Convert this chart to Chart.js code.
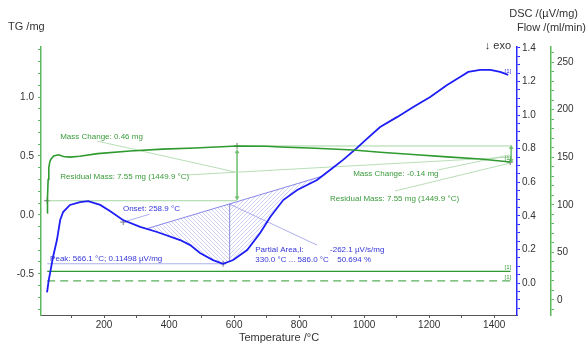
<!DOCTYPE html>
<html><head><meta charset="utf-8">
<script src="https://cdn.jsdelivr.net/npm/chart.js@4/dist/chart.umd.min.js"></script>
<style>html,body{margin:0;padding:0;background:#fff}#wrap{width:587px;height:345px;position:relative}</style>
</head><body><div id="wrap"><canvas id="c" width="587" height="345"></canvas></div>
<script>
// ---------- data ----------
const tgTemp = [24.6, 26, 28, 30, 33, 37, 45, 60, 75, 95, 125, 180, 280, 380, 480, 609, 700, 742, 850, 966, 1049, 1150, 1255, 1357, 1449];
const tgMass = [0.017, 0.15, 0.30, 0.40, 0.45, 0.475, 0.50, 0.51, 0.495, 0.49, 0.498, 0.52, 0.542, 0.558, 0.568, 0.585, 0.582, 0.576, 0.565, 0.551, 0.532, 0.512, 0.492, 0.474, 0.449];

const dscTemp = [24.6, 30, 34, 43, 55, 65, 74, 95, 126, 151, 188, 218, 258, 311, 363, 434, 465, 495, 535, 566, 597, 640, 680, 711, 751, 794, 855, 895, 935, 978, 1009, 1049, 1102, 1151, 1203, 1255, 1295, 1320, 1357, 1388, 1418, 1443];
const dscVal  = [-0.055, 0.02, 0.06, 0.155, 0.256, 0.375, 0.423, 0.465, 0.482, 0.488, 0.465, 0.429, 0.375, 0.334, 0.304, 0.256, 0.226, 0.179, 0.137, 0.115, 0.137, 0.197, 0.298, 0.393, 0.494, 0.554, 0.613, 0.673, 0.733, 0.805, 0.860, 0.929, 0.989, 1.048, 1.108, 1.179, 1.227, 1.257, 1.269, 1.269, 1.257, 1.239];

const flowSpan = [25, 1450];
const flowSolid = [30, 30];
const flowDashed = [20, 20];

// evaluation results (from the picture)
const massStepTemp = [25, 609];
const massStepLevels = [0.12, 0.585];
const massEndTemp = [609, 1449];
const massEndLevels = [0.585, 0.449];
const onsetPoint = [258.9, 0.363];
const peakPoint = [566.1, 0.115];
const areaRange = [330, 870];
const partialEnd = 586;

const tgLabels = ["Mass Change: 0.46 mg", "Residual Mass: 7.55 mg (1449.9 °C)", "Mass Change: -0.14 mg", "Residual Mass: 7.55 mg (1449.9 °C)"];
const tgLabelAt = [[65, 0.66], [65, 0.32], [966, 0.35], [895, 0.135]];
const dscLabels = ["Onset: 258.9 °C", "Peak: 566.1 °C; 0.11498 µV/mg", "Partial Area,I:", "330.0 °C ... 586.0 °C", "-262.1 µV/s/mg", "50.694 %"];
const dscLabelAt = [[258, 0.44], [34, 0.143], [665, 0.197], [665, 0.137], [895, 0.197], [917, 0.137]];

const tgLeaders = [
  [[178, 0.627], [603, 0.364]],
  [[455, 0.339], [1449, 0.49]],
  [[1225, 0.38], [1449, 0.51]],
  [[1095, 0.203], [1449, 0.44]]
];
const dscLeaders = [
  [[258.9, 0.363], [340, 0.41]],
  [[586, 0.47], [855, 0.226]],
  [[25, 0.115], [566.1, 0.115]]
];

// ---------- helpers ----------
function pts(xs, ys){ return xs.map((x,i)=>({x:x, y:ys[i]})); }
function interp(xs, ys, t){
  for (let i=1;i<xs.length;i++){ if (t<=xs[i]) { const f=(t-xs[i-1])/(xs[i]-xs[i-1]); return ys[i-1]+f*(ys[i]-ys[i-1]); } }
  return ys[ys.length-1];
}
const GREEN='#2f9a2f', LGREEN='#a6d6a6', MGREEN='#6fbf6f', BLUE='#1e1ef5', LBLUE='#7a7ae8';
const FONT='"Liberation Sans", Arial, sans-serif';

const b0 = interp(dscTemp, dscVal, areaRange[0]);
const b1 = interp(dscTemp, dscVal, areaRange[1]);
const baseAt = t => b0 + (b1-b0)*(t-areaRange[0])/(areaRange[1]-areaRange[0]);

const datasets = [];
function line(data, axis, color, width, extra){ datasets.push(Object.assign({data:data, yAxisID:axis, borderColor:color, borderWidth:width, pointRadius:0, fill:false, tension:0}, extra||{})); }

line(pts(tgTemp, tgMass), 'yTG', GREEN, 1.6);
line(pts(dscTemp, dscVal), 'yDSC', BLUE, 1.8);
line(pts(flowSpan, flowSolid), 'yFlow', GREEN, 1.3);
line(pts(flowSpan, flowDashed), 'yFlow', '#5aae5a', 1.3, {borderDash:[8,5]});
// TG evaluation lines
line(pts(massStepTemp, [massStepLevels[0], massStepLevels[0]]), 'yTG', LGREEN, 1);
line(pts([massEndTemp[0], 1452], [massStepLevels[1], massStepLevels[1]]), 'yTG', LGREEN, 1);
tgLeaders.forEach(s=>line(s.map(p=>({x:p[0],y:p[1]})), 'yTG', LGREEN, 0.8));
// arrows
const arrowOpts = {pointStyle:'triangle', pointRadius:2.3, pointBackgroundColor:MGREEN, pointBorderColor:MGREEN, pointBorderWidth:0.5, pointRotation:(c)=>c.dataIndex===0?0:180};
line([{x:massStepTemp[1], y:0.535},{x:massStepTemp[1], y:0.145}], 'yTG', MGREEN, 0.8, arrowOpts);
line([{x:1452, y:0.572},{x:1452, y:0.462}], 'yTG', MGREEN, 0.8, arrowOpts);
// cross markers
line([{x:massStepTemp[1], y:massStepLevels[1]},{x:massEndTemp[1], y:massEndLevels[1]},{x:massStepTemp[0], y:massStepLevels[0]}], 'yTG', 'rgba(0,0,0,0)', 0, {pointStyle:'cross', pointRadius:3, pointBorderColor:'#445544', pointBorderWidth:0.8, showLine:false});
// DSC evaluation
line([{x:areaRange[0], y:b0},{x:areaRange[1], y:b1}], 'yDSC', LBLUE, 0.9);
line([{x:partialEnd, y:baseAt(partialEnd)},{x:partialEnd, y:interp(dscTemp,dscVal,partialEnd)}], 'yDSC', '#9a9ad8', 0.8);
dscLeaders.forEach(s=>line(s.map(p=>({x:p[0],y:p[1]})), 'yDSC', '#9a9ae8', 0.8));
line([{x:onsetPoint[0], y:onsetPoint[1]},{x:peakPoint[0], y:peakPoint[1]}], 'yDSC', 'rgba(0,0,0,0)', 0, {pointStyle:'cross', pointRadius:3, pointBorderColor:'#556', pointBorderWidth:0.8, showLine:false});

// ---------- plugins ----------
const hatch = {
  id:'hatch',
  beforeDatasetsDraw(chart){
    const {ctx, chartArea, scales} = chart;
    const px = v=>scales.x.getPixelForValue(v), py = v=>scales.yDSC.getPixelForValue(v);
    function region(ta, tb){
      ctx.beginPath();
      ctx.moveTo(px(ta), py(interp(dscTemp,dscVal,ta)));
      dscTemp.forEach((t,i)=>{ if (t>ta && t<tb) ctx.lineTo(px(t), py(dscVal[i])); });
      ctx.lineTo(px(tb), py(interp(dscTemp,dscVal,tb)));
      ctx.lineTo(px(tb), py(baseAt(tb)));
      ctx.lineTo(px(ta), py(baseAt(ta)));
      ctx.closePath();
    }
    function fillHatch(ta, tb, dir){
      ctx.save();
      region(ta, tb); ctx.clip();
      ctx.strokeStyle = 'rgba(80,80,220,0.38)'; ctx.lineWidth = 0.7;
      ctx.beginPath();
      for (let k=-400; k<800; k+=4){
        const x0 = chartArea.left + k;
        if (dir>0){ ctx.moveTo(x0, chartArea.bottom); ctx.lineTo(x0+300, chartArea.bottom-300); }
        else { ctx.moveTo(x0, chartArea.top); ctx.lineTo(x0+300, chartArea.top+300); }
      }
      ctx.stroke();
      ctx.restore();
    }
    fillHatch(areaRange[0], partialEnd, -1);
    fillHatch(partialEnd, areaRange[1], 1);
  },
  afterDatasetsDraw(chart){
    const {ctx, scales} = chart;
    const px = v=>scales.x.getPixelForValue(v);
    ctx.save();
    ctx.font = '8px '+FONT; ctx.textBaseline='middle'; ctx.textAlign='left';
    ctx.fillStyle = '#3a9a3a';
    tgLabels.forEach((s,i)=>ctx.fillText(s, px(tgLabelAt[i][0]), scales.yTG.getPixelForValue(tgLabelAt[i][1])));
    ctx.fillStyle = '#3535d8';
    dscLabels.forEach((s,i)=>ctx.fillText(s, px(dscLabelAt[i][0]), scales.yDSC.getPixelForValue(dscLabelAt[i][1])));
    // [1] tags
    ctx.font = '6px '+FONT; ctx.textAlign='right'; ctx.textBaseline='bottom';
    ctx.fillStyle = '#3a9a3a';
    ctx.fillText('[1]', px(1452), scales.yTG.getPixelForValue(tgMass[tgMass.length-1])-1);
    ctx.fillText('[1]', px(1452), scales.yFlow.getPixelForValue(flowSolid[1])-1);
    ctx.fillText('[1]', px(1452), scales.yFlow.getPixelForValue(flowDashed[1])-1);
    ctx.fillStyle = '#3535d8';
    ctx.fillText('[1]', px(1452), scales.yDSC.getPixelForValue(dscVal[dscVal.length-1])-1);
    // axis titles
    ctx.fillStyle = '#333'; ctx.font = '11px '+FONT; ctx.textBaseline='middle';
    ctx.textAlign='left'; ctx.fillText('TG /mg', 8, 27);
    ctx.textAlign='right'; ctx.fillText('DSC /(µV/mg)', 578, 14);
    ctx.fillText('Flow /(ml/min)', 586, 28);
    ctx.fillText('↓ exo', 511, 46);
    ctx.restore();
  }
};

function major(step){ return v => (Math.abs(v/step - Math.round(v/step))<1e-6) ? (Math.abs(v)<1e-9?0:v).toFixed(step<1?1:0) : ''; }
const tickFont = {family: FONT, size: 10};

new Chart(document.getElementById('c'), {
  type:'line',
  data:{datasets:datasets},
  options:{
    responsive:false, animation:false, devicePixelRatio:1,
    parsing:true, normalized:true,
    layout:{padding:{top:47, left:0, right:0, bottom:0}},
    plugins:{legend:{display:false}, tooltip:{enabled:false}},
    elements:{line:{borderCapStyle:'butt'}},
    scales:{
      x:{type:'linear', min:6, max:1470, position:'bottom',
         border:{color:'#555', width:1},
         grid:{drawOnChartArea:false, drawTicks:true, tickLength:3, color:'#555'},
         ticks:{stepSize:100, includeBounds:false, autoSkip:false, maxRotation:0, padding:1, color:'#333', font:tickFont, callback:major(200)},
         title:{display:true, text:'Temperature /°C', color:'#333', font:{family:FONT, size:11}, padding:{top:0,bottom:0}},
         afterFit(s){ s.height = 30; }},
      yTG:{type:'linear', position:'left', min:-0.85, max:1.425,
         border:{color:'#5cb85c', width:1.5},
         grid:{drawOnChartArea:false, drawTicks:true, tickLength:3, color:'#5cb85c'},
         ticks:{stepSize:0.1, includeBounds:false, autoSkip:false, padding:4, color:'#333', font:tickFont, callback:major(0.5)},
         afterFit(s){ s.width = 41; }},
      yDSC:{type:'linear', position:'right', weight:1, min:-0.19, max:1.405,
         border:{color:'#2a2aff', width:1.5},
         grid:{drawOnChartArea:false, drawTicks:true, tickLength:3, color:'#2a2aff'},
         ticks:{stepSize:0.05, includeBounds:false, autoSkip:false, padding:2, color:'#333', font:tickFont, callback:major(0.2)},
         afterFit(s){ s.width = 34; }},
      yFlow:{type:'linear', position:'right', weight:2, min:-15.8, max:265.8,
         border:{color:'#5cb85c', width:1.5},
         grid:{drawOnChartArea:false, drawTicks:true, tickLength:3, color:'#5cb85c'},
         ticks:{stepSize:10, includeBounds:false, autoSkip:false, padding:3, color:'#333', font:tickFont, callback:major(50)},
         afterFit(s){ s.width = 36; }}
    }
  },
  plugins:[hatch]
});
</script>
</body></html>
